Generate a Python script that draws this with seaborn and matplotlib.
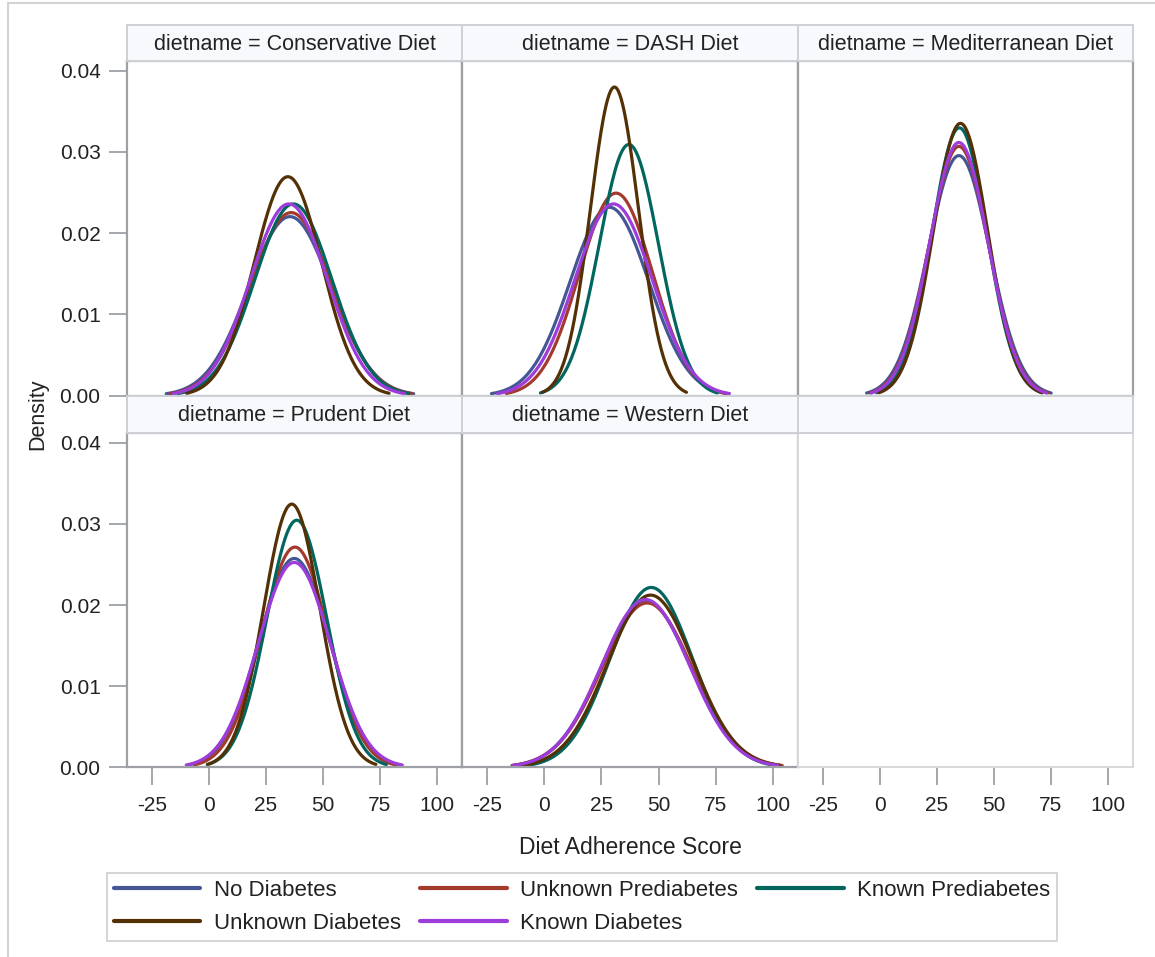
import numpy as np
import pandas as pd
import matplotlib
matplotlib.use("Agg")
import matplotlib.pyplot as plt
from matplotlib.lines import Line2D
import seaborn as sns

# ---------------- data ----------------
diets = ["Conservative Diet", "DASH Diet", "Mediterranean Diet", "Prudent Diet", "Western Diet"]
groups = ["No Diabetes", "Unknown Prediabetes", "Known Prediabetes", "Unknown Diabetes", "Known Diabetes"]
colors = ["#445694", "#A23A2E", "#01665E", "#543005", "#9D3CDB"]

# fitted normal means per diet, in group order
mean_conservative = [35.5, 36.0, 37.0, 34.6, 35.0]
mean_dash = [28.5, 31.4, 37.0, 30.7, 30.3]
mean_mediterranean = [34.6, 34.6, 34.8, 35.3, 34.6]
mean_prudent = [37.4, 37.7, 38.5, 36.3, 37.4]
mean_western = [44.5, 45.0, 46.8, 46.5, 44.3]

# fitted normal standard deviations per diet, in group order
sd_conservative = [18.1, 17.7, 16.9, 14.8, 16.9]
sd_dash = [17.2, 16.0, 12.9, 10.5, 16.9]
sd_mediterranean = [13.5, 13.0, 12.1, 11.9, 12.8]
sd_prudent = [15.5, 14.7, 13.1, 12.3, 15.8]
sd_western = [19.5, 19.7, 18.0, 18.8, 19.3]

x_ticks = [-25, 0, 25, 50, 75, 100]
y_ticks = [0.00, 0.01, 0.02, 0.03, 0.04]
y_tick_labels = ["0.00", "0.01", "0.02", "0.03", "0.04"]

means = [mean_conservative, mean_dash, mean_mediterranean, mean_prudent, mean_western]
sds = [sd_conservative, sd_dash, sd_mediterranean, sd_prudent, sd_western]

# Build the normal density curves (SAS "density / type=normal" over mean +/- 3 sd)
rows = []
for d, mus, sigmas in zip(diets, means, sds):
    for g, mu, s in zip(groups, mus, sigmas):
        xs = np.linspace(mu - 3 * s, mu + 3 * s, 200)
        ys = np.exp(-0.5 * ((xs - mu) / s) ** 2) / (s * np.sqrt(2 * np.pi))
        for xv, yv in zip(xs, ys):
            rows.append((d, g, xv, yv))
df = pd.DataFrame(rows, columns=["dietname", "group", "score", "density"])

# ---------------- styling ----------------
sns.set_theme(style="white")
plt.rcParams["font.family"] = ["Liberation Sans", "DejaVu Sans"]
TXT = "#222222"
FRAME = "#9DA1A6"
STRIP_FACE = "#F7F9FD"
STRIP_EDGE = "#CDD0D4"

W, H = 1155, 957
fig = plt.figure(figsize=(W / 100, H / 100), dpi=100)

def fx(px):
    return px / W

def fy(py):
    return 1 - py / H

col_edges = [(127, 462), (462, 798), (798, 1133)]
row_edges = [(61, 395.7), (433, 767.3)]
strip_edges = [(25, 61), (396, 433)]
xlim = (-36, 111)
ylim = (0, 0.0412)
palette = dict(zip(groups, colors))

for idx in range(6):
    r, c = divmod(idx, 3)
    x0, x1 = col_edges[c]
    y0, y1 = row_edges[r]
    ax = fig.add_axes([fx(x0), fy(y1), fx(x1 - x0), (y1 - y0) / H])
    ax.set_facecolor("white")
    if idx < len(diets):
        sub = df[df["dietname"] == diets[idx]]
        sns.lineplot(data=sub, x="score", y="density", hue="group", hue_order=groups,
                     palette=palette, estimator=None, sort=False, linewidth=2.3,
                     legend=False, ax=ax)
        edge = FRAME
        lw = 1.6
    else:
        edge = "#D6D8DB"
        lw = 1.4
    ax.set_xlim(*xlim)
    ax.set_ylim(*ylim)
    ax.set_xlabel("")
    ax.set_ylabel("")
    for sp in ax.spines.values():
        sp.set_color(edge)
        sp.set_linewidth(lw)
    ax.set_xticks(x_ticks)
    ax.set_yticks(y_ticks)
    ax.tick_params(axis="both", colors=FRAME, labelcolor=TXT, labelsize=15,
                   length=13, width=1.3, direction="out")
    if r == 1:
        ax.set_xticklabels([str(t) for t in x_ticks])
        ax.tick_params(axis="x", bottom=True, labelbottom=True, pad=8)
    else:
        ax.tick_params(axis="x", bottom=False, labelbottom=False)
    if c == 0:
        ax.set_yticklabels(y_tick_labels)
        ax.tick_params(axis="y", left=True, labelleft=True, pad=6)
    else:
        ax.tick_params(axis="y", left=False, labelleft=False)

    # strip header
    sy0, sy1 = strip_edges[r]
    sax = fig.add_axes([fx(x0), fy(sy1), fx(x1 - x0), (sy1 - sy0) / H])
    sax.set_facecolor(STRIP_FACE)
    sax.set_xticks([])
    sax.set_yticks([])
    for sp in sax.spines.values():
        sp.set_color(STRIP_EDGE)
        sp.set_linewidth(1.4)
    if idx < len(diets):
        sax.text(0.5, 0.47, f"dietname = {diets[idx]}", ha="center", va="center",
                 fontsize=15.5, color=TXT, transform=sax.transAxes)

# axis labels
fig.text(fx(38), fy(414), "Density", rotation=90, ha="center", va="center",
         fontsize=15.5, color=TXT)
fig.text(fx(630), fy(848), "Diet Adherence Score", ha="center", va="center",
         fontsize=16.5, color=TXT)

# legend (column-major order to reproduce the reference rows)
order = [0, 3, 1, 4, 2]
handles = [Line2D([0], [0], color=colors[i], lw=3) for i in order]
labels = [groups[i] for i in order]
leg = fig.legend(handles, labels, loc="upper left",
                 bbox_to_anchor=(fx(107), fy(940), fx(1057 - 107), (940 - 873) / H),
                 mode="expand", ncol=3, fontsize=16, frameon=True, fancybox=False,
                 handlelength=3.9, handletextpad=0.6, columnspacing=0.8,
                 labelspacing=0.55, borderpad=0.3, borderaxespad=0)
leg.get_frame().set_edgecolor("#C9CBCE")
leg.get_frame().set_linewidth(1.4)
for t in leg.get_texts():
    t.set_color(TXT)

# outer border of the graph
fig.add_artist(Line2D([fx(8), fx(1155)], [fy(3), fy(3)], color="#D3D3D3", lw=1.5))
fig.add_artist(Line2D([fx(8), fx(8)], [fy(3), fy(957)], color="#D3D3D3", lw=1.5))

fig.savefig("out.png", dpi=100, facecolor="white")
